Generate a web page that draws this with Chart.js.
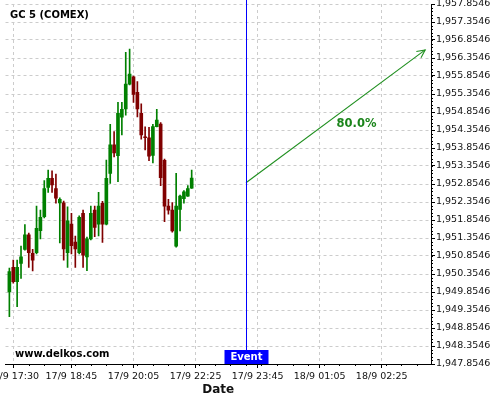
<!DOCTYPE html>
<html><head><meta charset="utf-8">
<script src="https://cdn.jsdelivr.net/npm/chart.js@4.4.0/dist/chart.umd.min.js"></script>
<style>html,body{margin:0;padding:0;background:#fff}</style>
</head><body>
<canvas id="c" width="500" height="400"></canvas>
<script>
const chartTitle = 'GC 5 (COMEX)';
const watermark = 'www.delkos.com';
const xAxisTitle = 'Date';
const xTickIndex = [1, 16, 32, 48, 64, 80, 96];
const xTickLabels = ['17/9 17:30', '17/9 18:45', '17/9 20:05', '17/9 22:25', '17/9 23:45', '18/9 01:05', '18/9 02:25'];
const yTickValues = [1947.8546, 1948.3546, 1948.8546, 1949.3546, 1949.8546, 1950.3546, 1950.8546,
  1951.3546, 1951.8546, 1952.3546, 1952.8546, 1953.3546, 1953.8546, 1954.3546, 1954.8546,
  1955.3546, 1955.8546, 1956.3546, 1956.8546, 1957.3546, 1957.8546];

const opens  = [1949.86,1950.54,1950.14,1950.65,1951.04,1951.44,1950.93,1950.95,1951.56,1951.95,
  1952.76,1953.01,1952.73,1952.33,1952.33,1950.95,1951.74,1951.24,1950.95,1952.04,
  1950.83,1951.33,1952.13,1951.74,1952.32,1951.74,1953.15,1953.94,1953.64,1954.71,
  1954.94,1955.63,1955.83,1955.40,1954.82,1954.16,1954.14,1953.65,1954.45,1954.52,
  1953.51,1952.24,1952.13,1951.13,1952.15,1952.45,1952.52,1952.74];
const highs  = [1950.52,1950.74,1950.74,1951.13,1951.73,1951.49,1951.04,1952.24,1952.13,1952.95,
  1953.24,1953.22,1953.13,1952.47,1952.38,1952.22,1952.04,1951.41,1951.97,1952.13,
  1951.38,1952.24,1952.24,1952.62,1952.37,1953.52,1954.51,1954.31,1955.12,1955.12,
  1956.51,1956.60,1955.85,1955.70,1955.08,1954.44,1954.43,1954.51,1954.93,1954.56,
  1953.55,1952.43,1952.34,1953.15,1952.55,1952.67,1952.81,1953.24];
const lows   = [1949.17,1950.10,1949.45,1950.23,1951.02,1950.54,1950.44,1950.91,1951.33,1951.91,
  1952.62,1952.62,1952.32,1951.22,1950.74,1950.54,1950.91,1950.54,1950.91,1950.54,
  1950.45,1951.30,1951.39,1951.41,1951.23,1951.72,1952.87,1953.61,1952.92,1954.22,
  1954.77,1955.61,1955.12,1954.72,1954.10,1953.80,1953.50,1953.44,1954.44,1952.81,
  1951.81,1952.02,1951.52,1951.10,1951.55,1952.32,1952.51,1952.73];
const closes = [1950.42,1950.14,1950.54,1950.83,1951.44,1950.95,1950.74,1951.62,1951.93,1952.73,
  1953.01,1952.83,1952.46,1952.43,1951.05,1951.83,1951.14,1951.05,1951.93,1950.88,
  1951.33,1952.04,1951.65,1952.24,1951.74,1953.01,1953.94,1953.72,1954.82,1954.93,
  1955.63,1955.91,1955.34,1954.94,1954.22,1954.14,1953.63,1954.45,1954.63,1953.03,
  1952.24,1952.13,1951.55,1952.24,1952.52,1952.64,1952.73,1953.02];

const eventIndex = 61;
const eventLabel = 'Event';
const arrowFrom = {x: 61, y: 1952.89};
const arrowTo = {x: 107.2, y: 1956.58};
const arrowLabel = '80.0%';

const UP = '#008000', DOWN = '#800000';
const ARROW = '#1f8f1f';
const candleColor = ctx => {
  const i = ctx.dataIndex;
  return closes[i] >= opens[i] ? UP : DOWN;
};
const FONT = 'DejaVu Sans';

function fmt(v) {
  const s = Number(v).toFixed(4);
  const [a, b] = s.split('.');
  return a.replace(/\B(?=(\d{3})+(?!\d))/g, ',') + '.' + b;
}

const overlay = {
  id: 'overlay',
  afterDatasetsDraw(chart) {
    const {ctx, chartArea: ca, scales: {x, y}} = chart;
    ctx.save();
    ctx.strokeStyle = '#000'; ctx.lineWidth = 1;
    ctx.beginPath();
    for (let k = 0; k <= 100; k++) {
      const py = Math.round(y.getPixelForValue(y.min + k * 0.1)) + 0.5;
      ctx.moveTo(ca.right, py); ctx.lineTo(ca.right + 2, py);
    }
    for (let i = xTickIndex[0] - 4; i <= x.max; i += 4) {
      if (i < x.min) continue;
      const px = Math.round(x.getPixelForValue(i)) + 0.5;
      ctx.moveTo(px, ca.bottom); ctx.lineTo(px, ca.bottom + 2);
    }
    ctx.stroke();

    const ex = Math.round(x.getPixelForValue(eventIndex)) + 0.5;
    ctx.strokeStyle = '#0000ff'; ctx.lineWidth = 1;
    ctx.beginPath(); ctx.moveTo(ex, 0); ctx.lineTo(ex, ca.bottom); ctx.stroke();
    ctx.fillStyle = '#0000ff';
    ctx.fillRect(ex - 22, ca.bottom - 14, 44, 14);
    ctx.fillStyle = '#fff';
    ctx.font = 'bold 10px "' + FONT + '"';
    ctx.textAlign = 'center'; ctx.textBaseline = 'middle';
    ctx.fillText(eventLabel, ex, ca.bottom - 6.5);

    const p1 = {x: x.getPixelForValue(arrowFrom.x), y: y.getPixelForValue(arrowFrom.y)};
    const p2 = {x: x.getPixelForValue(arrowTo.x), y: y.getPixelForValue(arrowTo.y)};
    const ang = Math.atan2(p2.y - p1.y, p2.x - p1.x);
    ctx.strokeStyle = ARROW; ctx.lineWidth = 1.1;
    ctx.beginPath();
    ctx.moveTo(p2.x - 9 * Math.cos(ang - 0.45), p2.y - 9 * Math.sin(ang - 0.45));
    ctx.lineTo(p2.x, p2.y);
    ctx.lineTo(p2.x - 9 * Math.cos(ang + 0.45), p2.y - 9 * Math.sin(ang + 0.45));
    ctx.stroke();
    const t = 0.617;
    const lx = p1.x + t * (p2.x - p1.x), ly = p1.y + t * (p2.y - p1.y) + 23;
    ctx.fillStyle = '#1a841a';
    ctx.font = 'bold 11.5px "' + FONT + '"';
    ctx.textAlign = 'center'; ctx.textBaseline = 'middle';
    ctx.fillText(arrowLabel, lx, ly);

    ctx.fillStyle = '#000';
    ctx.font = 'bold 10px "' + FONT + '"';
    ctx.textAlign = 'left'; ctx.textBaseline = 'middle';
    ctx.fillText(chartTitle, 10, 15.5);
    ctx.fillText(watermark, 15, 354);
    ctx.restore();
  }
};

new Chart(document.getElementById('c'), {
  type: 'bar',
  data: {
    datasets: [
      {
        label: 'wick',
        data: lows.map((l, i) => ({x: i, y: [l, highs[i]]})),
        backgroundColor: candleColor,
        barThickness: 1,
        grouped: false,
        borderWidth: 0,
        order: 2
      },
      {
        label: 'body',
        data: opens.map((o, i) => ({x: i, y: [o, closes[i]]})),
        backgroundColor: candleColor,
        barThickness: 3,
        minBarLength: 1,
        grouped: false,
        borderWidth: 0,
        order: 1
      },
      {
        type: 'line',
        label: 'arrow',
        data: [arrowFrom, arrowTo],
        borderColor: ARROW,
        borderWidth: 1.1,
        pointRadius: 0,
        tension: 0,
        order: 0
      }
    ]
  },
  options: {
    responsive: false,
    devicePixelRatio: 1,
    animation: false,
    layout: {padding: {left: 5.5, top: 4, right: 0, bottom: 0}},
    plugins: {legend: {display: false}, tooltip: {enabled: false}},
    scales: {
      x: {
        type: 'linear',
        min: -1, max: 108.7,
        offset: false,
        grid: {color: '#cccccc', tickColor: '#000', tickLength: 4, offset: false},
        border: {display: true, color: '#000', width: 1, dash: [3, 3]},
        afterBuildTicks: s => { s.ticks = xTickIndex.map(v => ({value: v})); },
        afterFit: s => { s.height = 36; s.paddingLeft = 0; s.paddingRight = 0; },
        ticks: {
          autoSkip: false, maxRotation: 0, minRotation: 0, padding: 3,
          color: '#111', font: {family: FONT, size: 9.5},
          callback: (v, i) => xTickLabels[i]
        },
        title: {display: true, text: xAxisTitle, color: '#111',
          font: {family: FONT, size: 12, weight: 'bold'}, padding: {top: 0, bottom: 3}}
      },
      y: {
        type: 'linear',
        position: 'right',
        min: yTickValues[0], max: yTickValues[yTickValues.length - 1],
        grid: {color: '#cccccc', tickColor: '#000', tickLength: 4},
        border: {display: true, color: '#000', width: 1, dash: [3, 3]},
        afterBuildTicks: s => { s.ticks = yTickValues.map(v => ({value: v})); },
        afterFit: s => { s.width = 69; s.paddingTop = 0; s.paddingBottom = 0; },
        ticks: {
          padding: 1, color: '#111', font: {family: FONT, size: 9.5},
          callback: v => fmt(v)
        }
      }
    }
  },
  plugins: [overlay]
});
</script>
</body></html>
